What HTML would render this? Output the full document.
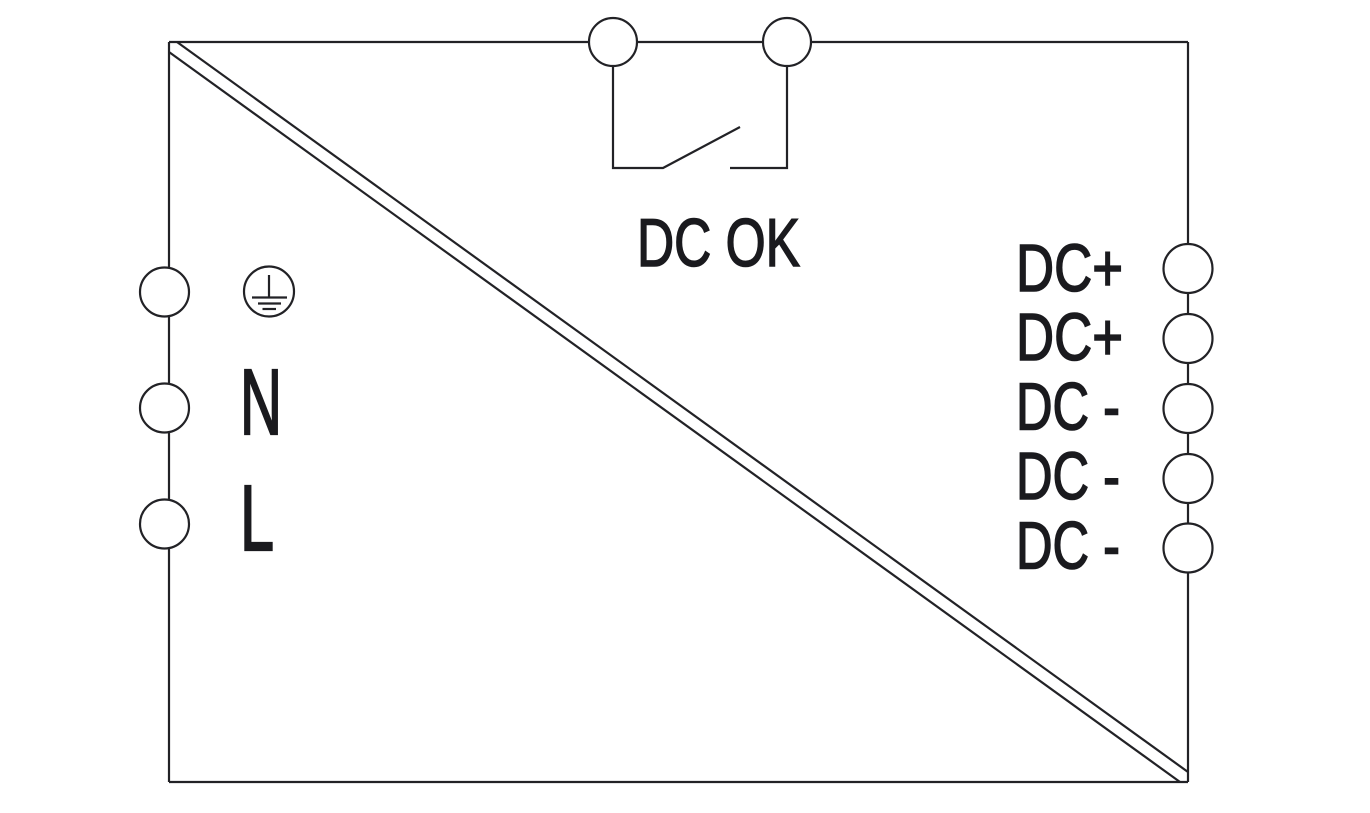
<!DOCTYPE html>
<html><head><meta charset="utf-8"><style>
html,body{margin:0;padding:0;background:#fff;}
svg{display:block;}
text{font-family:"Liberation Sans",sans-serif;fill:#1a1a1e;stroke:#1a1a1e;}
</style></head><body>
<svg width="1370" height="813" viewBox="0 0 1370 813" xmlns="http://www.w3.org/2000/svg">
<g stroke="#222226" stroke-width="2.2" fill="none">
  <!-- box -->
  <line x1="169" y1="42" x2="589" y2="42"/>
  <line x1="637" y1="42" x2="763" y2="42"/>
  <line x1="811" y1="42" x2="1188" y2="42"/>
  <line x1="1188" y1="42" x2="1188" y2="782"/>
  <line x1="169" y1="782" x2="1188" y2="782"/>
  <line x1="169" y1="42" x2="169" y2="782"/>
  <!-- diagonals -->
  <line x1="177" y1="42" x2="1188" y2="772"/>
  <line x1="169" y1="52" x2="1180" y2="782"/>
  <!-- top terminals -->
  <circle cx="613" cy="42" r="24" fill="#fff"/>
  <circle cx="787" cy="42" r="24" fill="#fff"/>
  <!-- switch -->
  <polyline points="613,66 613,168 663,168 740,127"/>
  <polyline points="730,168 787,168 787,66"/>
  <!-- left terminals -->
  <circle cx="164.5" cy="292" r="24.5" fill="#fff"/>
  <circle cx="164.5" cy="408" r="24.5" fill="#fff"/>
  <circle cx="164.5" cy="524" r="24.5" fill="#fff"/>
  <!-- earth -->
  <circle cx="269" cy="291.5" r="25" fill="#fff"/>
  <line x1="269" y1="275" x2="269" y2="297"/>
  <line x1="252" y1="297.5" x2="287" y2="297.5"/>
  <line x1="258" y1="303.5" x2="281" y2="303.5"/>
  <line x1="262.5" y1="309" x2="276" y2="309"/>
  <!-- right terminals -->
  <circle cx="1188" cy="268.5" r="24.5" fill="#fff"/>
  <circle cx="1188" cy="338.5" r="24.5" fill="#fff"/>
  <circle cx="1188" cy="408.5" r="24.5" fill="#fff"/>
  <circle cx="1188" cy="478.5" r="24.5" fill="#fff"/>
  <circle cx="1188" cy="548" r="24.5" fill="#fff"/>
</g>
<text x="637" y="266" font-size="68" stroke-width="1.6" textLength="163" lengthAdjust="spacingAndGlyphs">DC OK</text>
<text x="240" y="434" font-size="93" stroke-width="2.2" textLength="42" lengthAdjust="spacingAndGlyphs">N</text>
<text x="240" y="550" font-size="93" stroke-width="2.2" textLength="34" lengthAdjust="spacingAndGlyphs">L</text>
<text x="1016" y="291" font-size="67" stroke-width="1.6" textLength="107" lengthAdjust="spacingAndGlyphs">DC+</text>
<text x="1016" y="360" font-size="67" stroke-width="1.6" textLength="107" lengthAdjust="spacingAndGlyphs">DC+</text>
<text x="1016" y="429.5" font-size="67" stroke-width="1.6" textLength="104" lengthAdjust="spacingAndGlyphs">DC -</text>
<text x="1016" y="499" font-size="67" stroke-width="1.6" textLength="104" lengthAdjust="spacingAndGlyphs">DC -</text>
<text x="1016" y="568.5" font-size="67" stroke-width="1.6" textLength="104" lengthAdjust="spacingAndGlyphs">DC -</text>
</svg>
</body></html>
